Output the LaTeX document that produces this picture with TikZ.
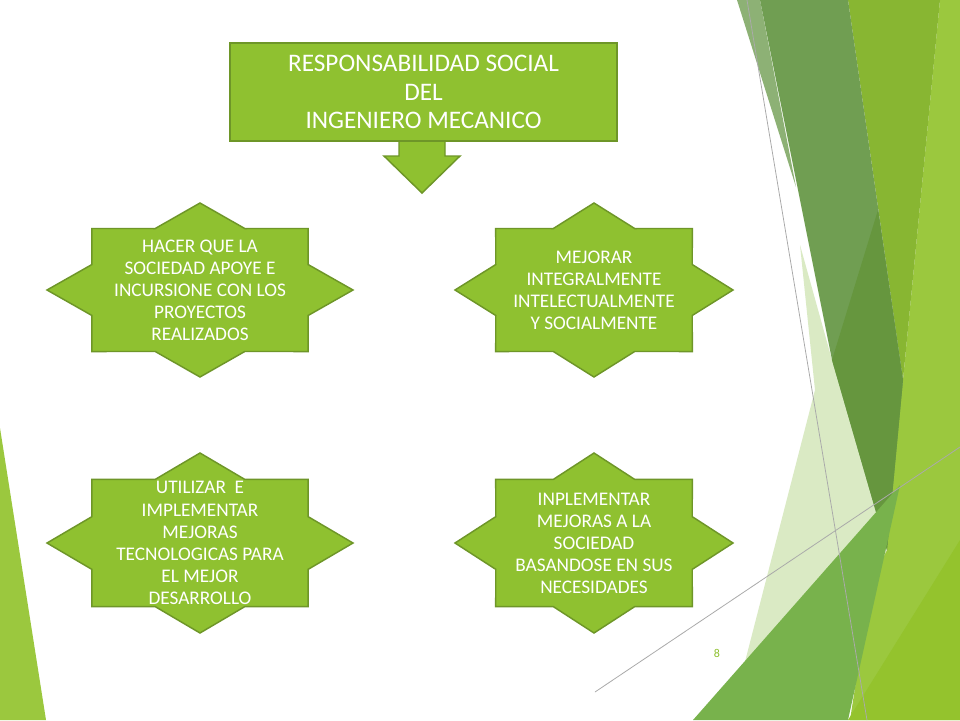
\documentclass[tikz,border=0pt]{standalone}
\usepackage{fontspec}
\setmainfont{Carlito}
\usepackage{tikz}
\usetikzlibrary{positioning}
\definecolor{verdeforma}{RGB}{143,193,48}
\definecolor{bordeforma}{RGB}{110,150,40}
\definecolor{verdeoscuro}{RGB}{112,158,82}
\definecolor{verdeoscurob}{RGB}{102,150,62}
\definecolor{verdeamarillo}{RGB}{136,182,50}
\definecolor{verdeclaro}{RGB}{155,200,62}
\definecolor{verdepalido}{RGB}{218,234,196}
\definecolor{verdemedio}{RGB}{120,178,76}
\definecolor{verdefondo}{RGB}{148,195,45}
\definecolor{lineagris}{RGB}{170,170,170}
\newlength\pix
\setlength\pix{0.26458mm}

\tikzset{
  forma/.style={fill=verdeforma, draw=bordeforma, line width=1.1pt},
  titulo/.style={forma, minimum width=387\pix, minimum height=98\pix, text=white, align=center, font=\fontsize{19}{21.5}\selectfont},
  textoestrella/.style={text=white, align=center, inner sep=0pt, font=\fontsize{14.5}{16.6}\selectfont},
  lineafondo/.style={lineagris, line width=0.6pt}
}

\begin{document}
\begin{tikzpicture}[x=0.26458mm, y=-0.26458mm]
    \useasboundingbox[fill=white] (0,0) rectangle (960,720);

    % Fondo: franja izquierda
    \fill[verdeclaro] (0,428) -- (46,720) -- (0,720) -- cycle;

    % Fondo: facetas a la derecha
    \fill[verdeclaro] (940,0) -- (960,0) -- (960,720) -- (850,720) -- (903,380) -- cycle;
    \fill[verdeamarillo] (848,0) -- (940,0) -- (903,380) -- cycle;
    \fill[verdeoscuro!80!white] (737,0) -- (760,0) -- (796,187) -- cycle;
    \fill[verdepalido] (800,245) -- (832,360) -- (887,550) -- (800,720) -- (730,720) -- (815,390) -- cycle;
    \fill[verdeoscuro] (760,0) -- (848,0) -- (903,380) -- (887,550) -- (832,360) -- cycle;
    \fill[verdeoscurob] (878,210) -- (903,380) -- (887,550) -- (832,360) -- cycle;
    \fill[verdemedio] (693,720) -- (900,485) -- (848,720) -- cycle;
    \fill[verdefondo] (848,720) -- (960,540) -- (960,720) -- cycle;

    % Lineas finas
    \draw[lineafondo] (747,0) -- (867,720);
    \draw[lineafondo] (595,692) -- (960,447);

    % Flecha bajo el titulo
    \coordinate (punta) at (422,193);
    \filldraw[forma] (399,140) -- (399,156) -- (384,156) -- (punta) -- (460,156) -- (445,156) -- (445,140);

    % Titulo
    \node[titulo] (titulo) at (423.5,92) {RESPONSABILIDAD SOCIAL\\DEL\\INGENIERO MECANICO};

    % Estrellas de ocho puntas
    \foreach \cx/\cy/\ra/\rb/\nombre/\texto in {
        200/290/153/87/hacer/{HACER QUE LA\\SOCIEDAD APOYE E\\INCURSIONE CON LOS\\PROYECTOS\\REALIZADOS},
        594/290/139/87/mejorar/{MEJORAR\\INTEGRALMENTE\\INTELECTUALMENTE\\Y SOCIALMENTE},
        200/543/153/90/utilizar/{UTILIZAR\ \ E\\IMPLEMENTAR\\MEJORAS\\TECNOLOGICAS PARA\\EL MEJOR\\DESARROLLO},
        594/543/139/90/inplementar/{INPLEMENTAR\\MEJORAS A LA\\SOCIEDAD\\BASANDOSE EN SUS\\NECESIDADES}} {
        \filldraw[forma] (\cx+\ra,\cy) \foreach \k in {1,...,15} {
            -- ({\cx+\ra*cos(22.5*\k)*(1-0.235*mod(\k,2))},{\cy-\rb*sin(22.5*\k)*(1-0.235*mod(\k,2))})} -- cycle;
        \node[textoestrella] (\nombre) at (\cx,\cy) {\texto};
    }

    % Numero de pagina
    \node[text=verdeforma, font=\fontsize{9}{10}\selectfont] (pagina) at (717,653) {8};
\end{tikzpicture}
\end{document}
